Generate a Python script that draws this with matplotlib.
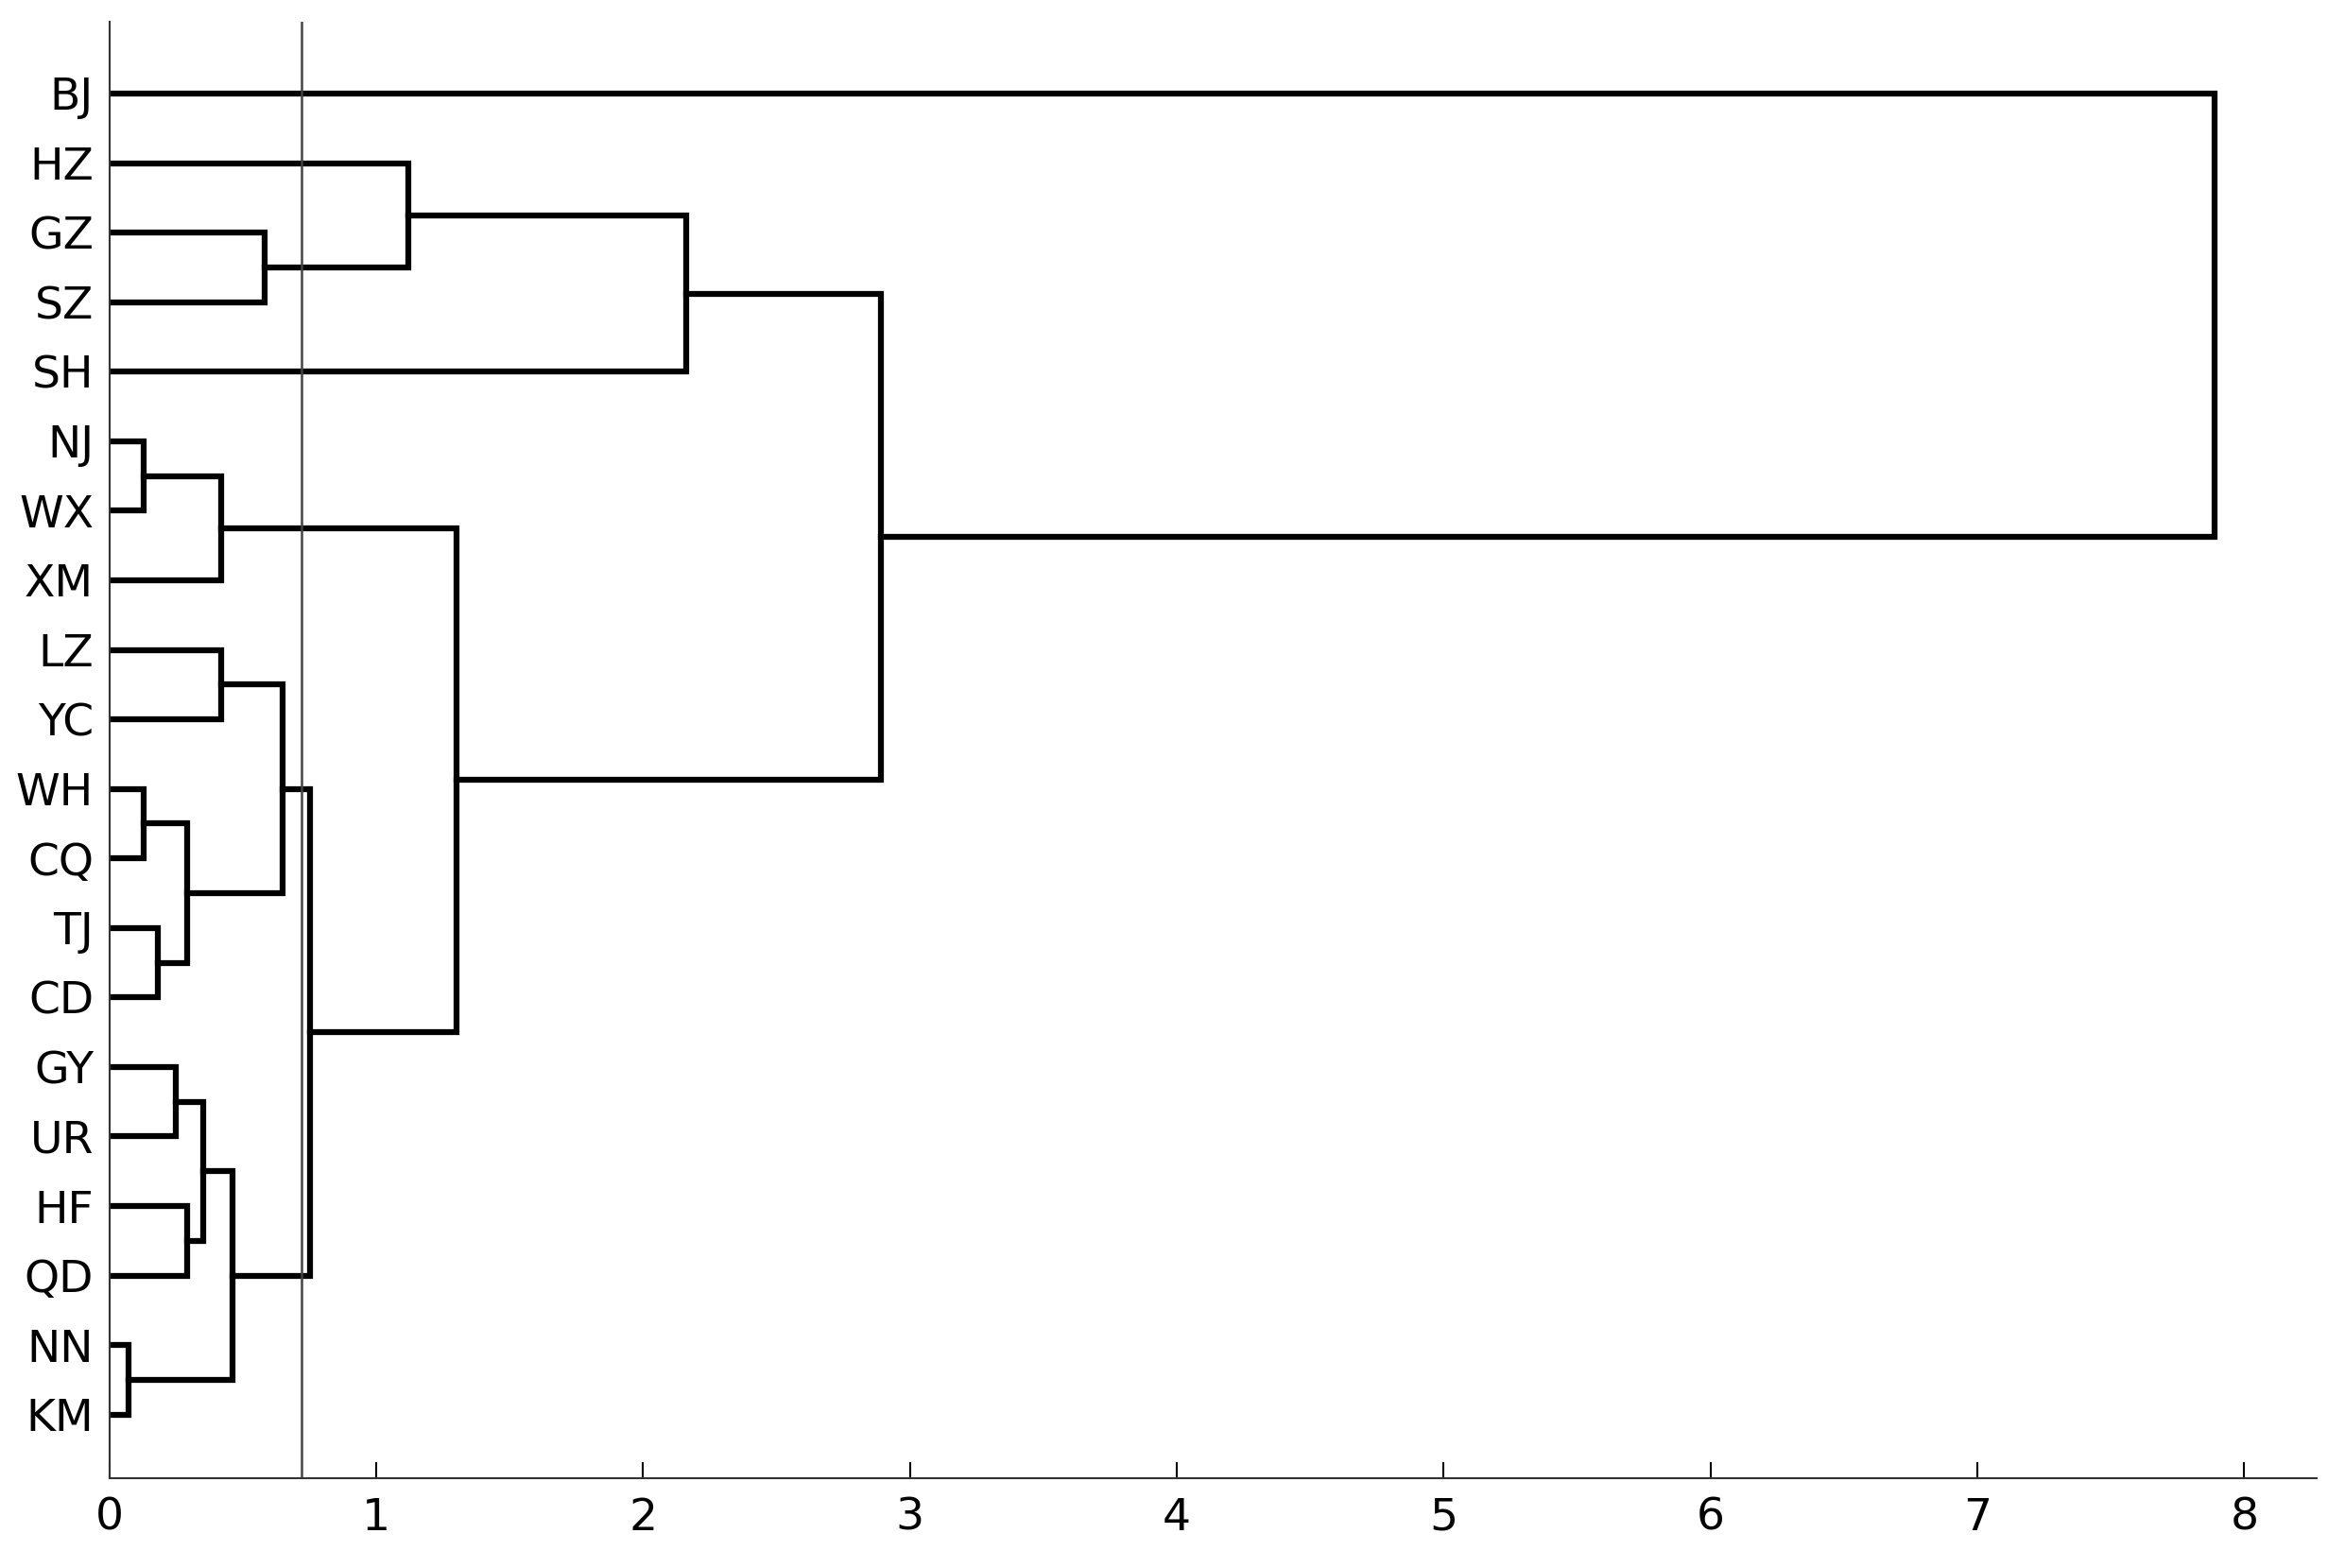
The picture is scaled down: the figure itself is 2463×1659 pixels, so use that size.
import matplotlib.pyplot as plt

# leaf order top to bottom
labels = ["BJ", "HZ", "GZ", "SZ", "SH", "NJ", "WX", "XM", "LZ", "YC",
          "WH", "CQ", "TJ", "CD", "GY", "UR", "HF", "QD", "NN", "KM"]

# merges: (left cluster, right cluster, distance); clusters are leaf names or earlier merge ids
merges = [
    ("GZ", "SZ", 0.58),   # m0
    ("HZ", 0, 1.12),      # m1
    (1, "SH", 2.16),      # m2
    ("NJ", "WX", 0.13),   # m3
    (3, "XM", 0.42),      # m4
    ("LZ", "YC", 0.42),   # m5
    ("WH", "CQ", 0.13),   # m6
    ("TJ", "CD", 0.18),   # m7
    (6, 7, 0.29),         # m8
    (5, 8, 0.65),         # m9
    ("GY", "UR", 0.25),   # m10
    ("HF", "QD", 0.29),   # m11
    (10, 11, 0.35),       # m12
    ("NN", "KM", 0.07),   # m13
    (12, 13, 0.46),       # m14
    (9, 14, 0.75),        # m15
    (4, 15, 1.30),        # m16
    (2, 16, 2.89),        # m17
    ("BJ", 17, 7.89),     # m18
]
cut_level = 0.72

fig = plt.figure(figsize=(24.63, 16.59), dpi=100)
ax = fig.add_axes([0.047, 0.057, 0.948, 0.929])

pos = {name: i for i, name in enumerate(labels)}
height = {name: 0.0 for name in labels}
for k, (a, b, d) in enumerate(merges):
    ya, yb = pos[a], pos[b]
    xa, xb = height[a], height[b]
    ax.plot([xa, d, d, xb], [ya, ya, yb, yb], color="black", lw=4.5,
            solid_joinstyle="miter")
    pos[k] = (ya + yb) / 2
    height[k] = d

ax.axvline(cut_level, color="#444444", lw=1.8)

ax.set_xlim(0, 8.27)
ax.set_ylim(19.92, -1.03)
ax.set_yticks(range(len(labels)))
ax.set_yticklabels(labels, fontsize=34)
ax.set_xticks(range(9))
ax.tick_params(axis="x", labelsize=34, direction="in", length=12, width=1.5, pad=14)
ax.tick_params(axis="y", length=0, pad=12)
for s in ["top", "right"]:
    ax.spines[s].set_visible(False)
for s in ["left", "bottom"]:
    ax.spines[s].set_linewidth(1.5)
    ax.spines[s].set_color("#333333")

fig.savefig("out.png", dpi=100)
